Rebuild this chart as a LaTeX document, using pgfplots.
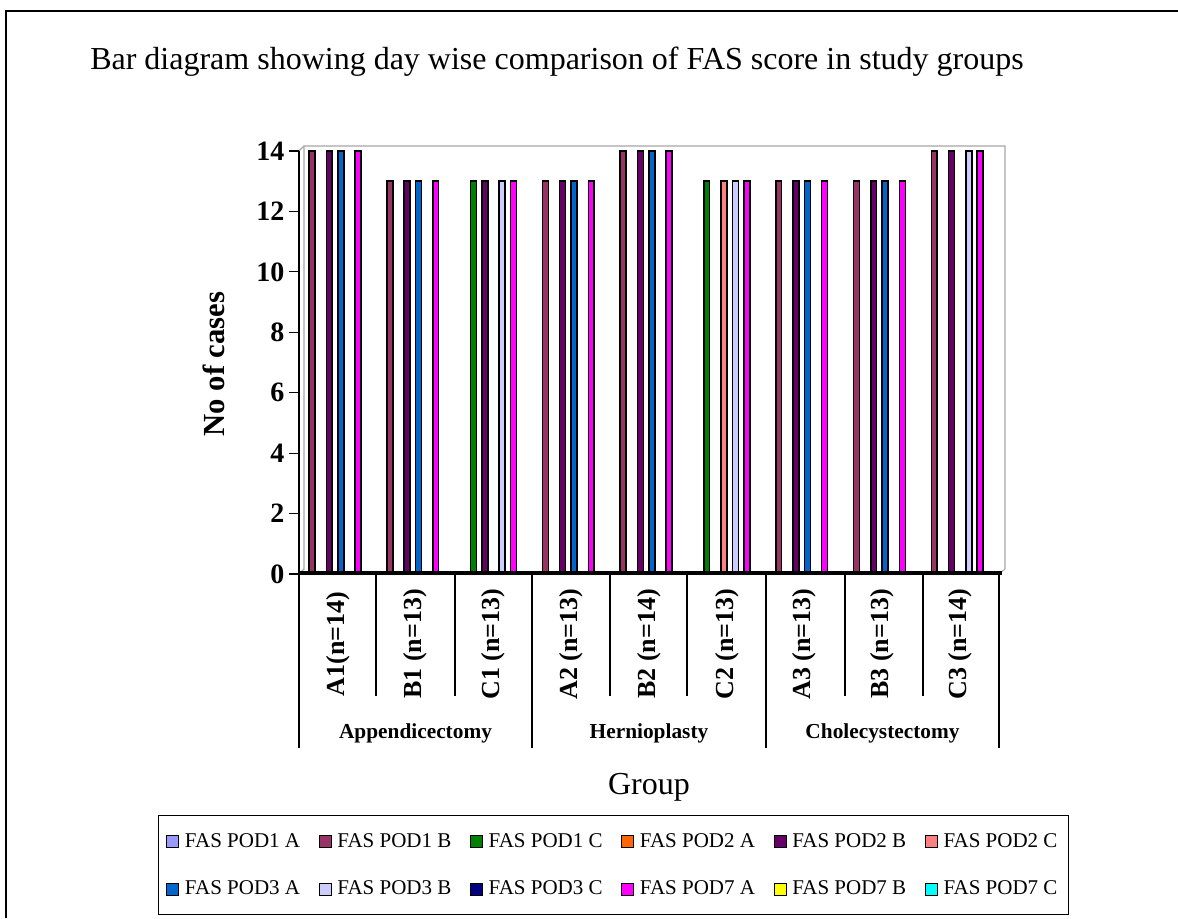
\documentclass[border=0pt]{standalone}
\usepackage{fontspec}
\setmainfont{Liberation Serif}
\usepackage{pgfplots}
\usepackage{pgfplotstable}
\pgfplotsset{compat=1.18}

\definecolor{cIA}{HTML}{9999FF}
\definecolor{cIB}{HTML}{993366}
\definecolor{cIC}{HTML}{008000}
\definecolor{cIIA}{HTML}{FF6600}
\definecolor{cIIB}{HTML}{660066}
\definecolor{cIIC}{HTML}{FF8080}
\definecolor{cIIIA}{HTML}{0066CC}
\definecolor{cIIIB}{HTML}{CCCCFF}
\definecolor{cIIIC}{HTML}{000080}
\definecolor{cVIIA}{HTML}{FF00FF}
\definecolor{cVIIB}{HTML}{FFFF00}
\definecolor{cVIIC}{HTML}{00FFFF}

\pgfplotstableread{
x p1A p1B p1C p2A p2B p2C p3A p3B p3C p7A p7B p7C
0 0 14 0 0 14 0 14 0 0 14 0 0
1 0 13 0 0 13 0 13 0 0 13 0 0
2 0 0 13 0 13 0 0 13 0 13 0 0
3 0 13 0 0 13 0 13 0 0 13 0 0
4 0 14 0 0 14 0 14 0 0 14 0 0
5 0 0 13 0 0 13 0 13 0 13 0 0
6 0 13 0 0 13 0 13 0 0 13 0 0
7 0 13 0 0 13 0 13 0 0 13 0 0
8 0 14 0 0 14 0 0 14 0 14 0 0
}\fasdata

\begin{document}
\begin{tikzpicture}[x=0.75pt,y=0.75pt]
\useasboundingbox (0,0) rectangle (1178,918);
% outer frame (top and left visible)
\draw[line width=1.2pt] (6,0) -- (6,907) -- (1178,907);
% title
\node[anchor=base west, inner sep=0pt, font=\fontsize{24}{24}\selectfont] at (90,848)
  {Bar diagram showing day wise comparison of FAS score in study groups};
% 3D back wall
\draw[gray!70, line width=0.8pt] (299,767) -- (304,772) -- (1005,772) -- (1005,349) -- (999,344);
\draw[gray!70, line width=0.8pt] (304,772) -- (304,349) -- (299,344);

\begin{axis}[
  at={(224.25pt,258pt)}, anchor=south west,
  scale only axis, width=525pt, height=317.25pt,
  xmin=-0.5, xmax=8.5, ymin=0, ymax=14,
  ybar, bar width=0.076,
  axis lines*=left,
  axis line style={black, line width=0.9pt},
  clip=false,
  ytick={0,2,...,14},
  tick align=outside,
  major tick length=7.5pt,
  ytick style={black, line width=0.9pt},
  /pgf/number format/assume math mode=true,
  yticklabel style={font=\fontsize{21}{21}\selectfont\bfseries},
  xtick={0,...,8},
  xtick style={draw=none},
  xticklabels={{A1(n=14)},{B1 (n=13)},{C1 (n=13)},{A2 (n=13)},{B2 (n=14)},{C2 (n=13)},{A3 (n=13)},{B3 (n=13)},{C3 (n=14)}},
  xticklabel style={font=\fontsize{19.5}{19.5}\selectfont\bfseries, yshift=-45pt, rotate=90, anchor=center},
  every axis plot/.append style={draw=black, line width=1.2pt},
  legend columns=6,
  legend image code/.code={\draw[#1, line width=0.7pt] (0pt,-4.5pt) rectangle (9pt,4.5pt); \path (11pt,0pt);},
  legend style={at={(0.449,-0.688)}, anchor=center, draw=black, line width=0.8pt,
    font=\fontsize{15.75}{16}\selectfont, inner xsep=6pt, inner ysep=11pt,
    row sep=20pt, nodes={inner sep=2pt},
    /tikz/every even column/.append style={column sep=12pt}},
]
\addplot[fill=cIA,   bar shift=-0.405] table[x=x,y=p1A]{\fasdata};
\addplot[fill=cIB,   bar shift=-0.332] table[x=x,y=p1B]{\fasdata};
\addplot[fill=cIC,   bar shift=-0.258] table[x=x,y=p1C]{\fasdata};
\addplot[fill=cIIA,  bar shift=-0.184] table[x=x,y=p2A]{\fasdata};
\addplot[fill=cIIB,  bar shift=-0.111] table[x=x,y=p2B]{\fasdata};
\addplot[fill=cIIC,  bar shift=-0.037] table[x=x,y=p2C]{\fasdata};
\addplot[fill=cIIIA, bar shift=0.037]  table[x=x,y=p3A]{\fasdata};
\addplot[fill=cIIIB, bar shift=0.111]  table[x=x,y=p3B]{\fasdata};
\addplot[fill=cIIIC, bar shift=0.184]  table[x=x,y=p3C]{\fasdata};
\addplot[fill=cVIIA, bar shift=0.258]  table[x=x,y=p7A]{\fasdata};
\addplot[fill=cVIIB, bar shift=0.332]  table[x=x,y=p7B]{\fasdata};
\addplot[fill=cVIIC, bar shift=0.405]  table[x=x,y=p7C]{\fasdata};
\legend{FAS POD1 A, FAS POD1 B, FAS POD1 C, FAS POD2 A, FAS POD2 B, FAS POD2 C,
        FAS POD3 A, FAS POD3 B, FAS POD3 C, FAS POD7 A, FAS POD7 B, FAS POD7 C}
\end{axis}

% thick black base of the 3D floor
\draw[line width=2.4pt] (299,345) -- (1002,345);
% category separators
\foreach \sx in {376,455,610,687,845,923} \draw[line width=0.9pt] (\sx,344) -- (\sx,222);
\foreach \sx in {299,532,766,999} \draw[line width=0.9pt] (\sx,344) -- (\sx,170);
% group labels
\node[font=\fontsize{16}{16}\selectfont\bfseries] at (415.5,185) {Appendicectomy};
\node[font=\fontsize{16}{16}\selectfont\bfseries] at (649,185) {Hernioplasty};
\node[font=\fontsize{16}{16}\selectfont\bfseries] at (882.5,185) {Cholecystectomy};
% axis titles
\node[font=\fontsize{24}{24}\selectfont] at (649,131) {Group};
\node[rotate=90, font=\fontsize{23}{23}\selectfont\bfseries] at (214,554) {No of cases};
\end{tikzpicture}
\end{document}
